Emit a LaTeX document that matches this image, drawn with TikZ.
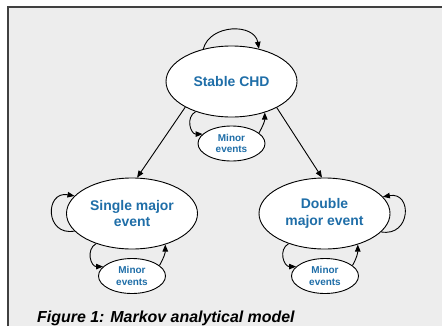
\documentclass[tikz,border=0pt]{standalone}
\usepackage{fontspec}
\setmainfont{Liberation Sans}
\usetikzlibrary{shapes.geometric,arrows.meta}
\definecolor{panel}{RGB}{237,237,237}
\definecolor{frameline}{RGB}{64,64,64}
\definecolor{statetext}{RGB}{31,110,168}
\tikzset{
  state/.style={ellipse,draw,fill=white,line width=0.9bp,inner sep=0pt,
    minimum width=131bp,minimum height=71bp,text=statetext,align=center,
    font=\fontsize{14}{17}\selectfont\bfseries},
  minor/.style={ellipse,draw,fill=white,line width=0.9bp,inner sep=0pt,
    minimum width=67bp,minimum height=35bp,text=statetext,align=center,
    font=\fontsize{10}{11.5}\selectfont\bfseries},
  trans/.style={line width=0.9bp,-{Triangle[length=7bp,width=5.5bp]}}
}
\begin{document}
\begin{tikzpicture}[x=1bp,y=1bp]
\useasboundingbox (0,0) rectangle (442,326);
\fill[white] (0,0) rectangle (442,326);
\fill[panel] (8,0) rectangle (442,319);
\draw[frameline,line width=1.6bp] (8,0) -- (8,319) -- (442,319);
% states
\node[state] (stable) at (231.5,244.5) {Stable CHD};
\node[minor] (m0) at (231.5,182.5) {Minor\\events};
\node[state] (single) at (132,112.5) {Single major\\event};
\node[minor] (m1) at (132,50) {Minor\\events};
\node[state] (double) at (324.5,112.5) {Double\\major event};
\node[minor] (m2) at (325,50) {Minor\\events};
% transitions
\draw[trans] (stable.209) -- (single.82);
\draw[trans] (stable.330) -- (double.94);
\draw[trans] (stable.131) to[out=75,in=100,looseness=1.2] (stable.50);
\draw[trans] (single.197) to[out=190,in=170,looseness=2.2] (single.163);
\draw[trans] (double.342) to[out=-10,in=10,looseness=2.2] (double.16);
% minor event loops
\draw[trans] (stable.220) to[out=210,in=180,looseness=1.3] (m0.162);
\draw[trans] (m0.21) to[out=60,in=-90] (stable.317);
\draw[trans] (single.220) to[out=210,in=180,looseness=1.3] (m1.162);
\draw[trans] (m1.21) to[out=60,in=-90] (single.317);
\draw[trans] (double.220) to[out=210,in=180,looseness=1.3] (m2.162);
\draw[trans] (m2.21) to[out=60,in=-90] (double.317);
\node[anchor=base west,inner sep=0pt,font=\fontsize{16}{19}\selectfont\bfseries\itshape] (caption) at (37,4) {Figure 1: Markov analytical model};
\end{tikzpicture}
\end{document}
